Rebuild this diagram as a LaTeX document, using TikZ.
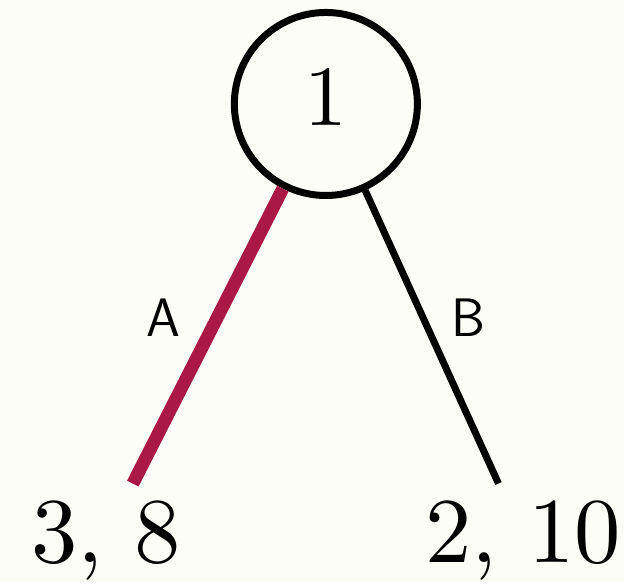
\documentclass[tikz,border=0pt]{standalone}
\usepackage{tikz}
\usetikzlibrary{positioning}
\definecolor{paper}{RGB}{253,253,247}
\definecolor{crimson}{RGB}{170,24,70}
\newcommand{\bigtxt}[2]{\scalebox{#1}{\fontsize{10}{12}\selectfont #2}}

\begin{document}
\begin{tikzpicture}[x=0.02cm,y=-0.02cm,
   decision/.style={draw,circle,line width=4pt,minimum size=3.68cm,inner sep=0pt,
     text depth=8pt},
   payoff/.style={anchor=base},
   choice/.style={inner sep=0pt,font=\sffamily\fontsize{31}{36}\selectfont}]
  \fill[paper] (0,0) rectangle (627,585);
  \node[decision] (root) at (327.5,104.5) {\bigtxt{4.9}{1}};
  \coordinate (endA) at (133.5,486);
  \coordinate (endB) at (501,486);
  \draw[crimson,line width=7.4pt] (root) -- (endA);
  \draw[line width=4pt] (root) -- (endB);
  \node[choice] (labA) at (164,319) {A};
  \node[choice] (labB) at (471,319.5) {B};
  \node[payoff] (payA) at (106.5,565) {\bigtxt{5.3}{3, 8}};
  \node[payoff] (payB) at (526,565) {\bigtxt{5.3}{2, 10}};
\end{tikzpicture}
\end{document}
